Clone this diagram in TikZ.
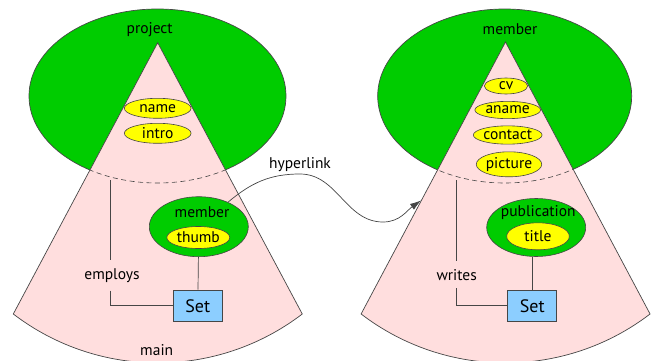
\documentclass[tikz,border=0pt]{standalone}
\usepackage{fontspec}
\setmainfont{PT Sans}
\usetikzlibrary{shapes.geometric,arrows.meta}
\definecolor{regiongreen}{RGB}{0,204,0}
\definecolor{conepink}{RGB}{255,222,222}
\definecolor{setblue}{RGB}{140,206,255}
\definecolor{fieldyellow}{RGB}{255,255,0}
\definecolor{linegray}{RGB}{70,70,70}
\tikzset{
  region/.style={fill=regiongreen, draw=linegray, line width=0.7pt},
  wedge/.style={fill=conepink, draw=linegray, line width=0.7pt},
  border/.style={draw=linegray, dash pattern=on 5pt off 3.5pt, line width=0.6pt},
  field/.style={ellipse, fill=fieldyellow, draw=linegray, line width=0.6pt, inner sep=0pt},
  group/.style={ellipse, fill=regiongreen, draw=linegray, line width=0.6pt, inner sep=0pt},
  setbox/.style={rectangle, fill=setblue, draw=linegray, line width=0.6pt,
    minimum width=49pt, minimum height=31.7pt, font=\fontsize{18}{20}\selectfont},
  link/.style={draw=linegray, line width=0.7pt},
  roletext/.style={inner sep=1pt, outer sep=7pt},
}

\begin{document}
\begin{tikzpicture}[x=1pt, y=1pt, font=\fontsize{15.5}{18}\selectfont]
\useasboundingbox (0,0) rectangle (654,360);
% Regions
\draw[region] (157.5,264) ellipse[x radius=128.5, y radius=87];
\draw[region] (504.7,264) ellipse[x radius=127, y radius=87];
% Cones
\draw[wedge] (157.7,317.3) -- (13.3,46) arc[start angle=232.6, end angle=307.4, radius=237.9] -- cycle;
\draw[wedge] (505.5,318) -- (361.1,46) arc[start angle=232.6, end angle=307.4, radius=237.9] -- cycle;
% Dashed region borders inside the cones
\begin{scope}
\clip (157.7,317.3) -- (13.3,46) arc[start angle=232.6, end angle=307.4, radius=237.9] -- cycle;
\draw[border] (157.5,264) ellipse[x radius=128.5, y radius=87];
\end{scope}
\begin{scope}
\clip (505.5,318) -- (361.1,46) arc[start angle=232.6, end angle=307.4, radius=237.9] -- cycle;
\draw[border] (504.7,264) ellipse[x radius=127, y radius=87];
\end{scope}

% Left: project
\node (project) at (149.7,330.7) {project};
\node[field, minimum width=66.7pt, minimum height=20pt] (name) at (157.7,251.7) {name};
\node[field, minimum width=66.7pt, minimum height=20pt] (intro) at (157.7,226.7) {intro};
\node[group, minimum width=99pt, minimum height=60pt] (mem) at (198.8,133.3) {};
\node (memtext) at (202,148.3) {member};
\node[field, minimum width=63pt, minimum height=22pt] (thumb) at (198.3,122.5) {thumb};
\node[setbox] (setL) at (197.8,54.2) {Set};
\node (main) at (156.7,10) {main};
\coordinate (empTop) at (110,180);
\node[roletext] (employs) at (112,84.5) {employs};
\draw[link] (mem) -- (setL);
\draw[link] (empTop) -- (empTop |- employs.north);
\draw[link] (empTop |- employs.south) |- (setL.west);

% Right: member
\node (member) at (510,330.7) {member};
\node[field, minimum width=43.3pt, minimum height=16pt] (cv) at (506,274) {cv};
\node[field, minimum width=65.7pt, minimum height=17.3pt] (aname) at (507.7,250) {aname};
\node[field, minimum width=68pt, minimum height=18.3pt] (contact) at (507.7,225) {contact};
\node[field, minimum width=61.7pt, minimum height=25pt] (picture) at (509,195.7) {picture};
\node[group, minimum width=99pt, minimum height=58pt] (pub) at (536.2,132.5) {};
\node (pubtext) at (538.3,147.3) {publication};
\node[field, minimum width=62.7pt, minimum height=27pt] (title) at (538,123.7) {title};
\node[setbox] (setR) at (532.2,54.2) {Set};
\coordinate (wriTop) at (456.7,180);
\node[roletext] (writes) at (456.7,85.3) {writes};
\draw[link] (setR.north) -- (setR.north |- pub.south);
\draw[link] (wriTop) -- (wriTop |- writes.north);
\draw[link] (wriTop |- writes.south) |- (setR.west);

% Hyperlink
\node (hyperlink) at (300,195) {hyperlink};
\coordinate (hltip) at (421,159.5);
\draw[link, -{Latex[length=11pt, width=7pt]}] (mem.40) to[out=40, in=180] (300,186)
  to[out=0, in=180] (383,138) to[out=0, in=215] (hltip);
\end{tikzpicture}
\end{document}
